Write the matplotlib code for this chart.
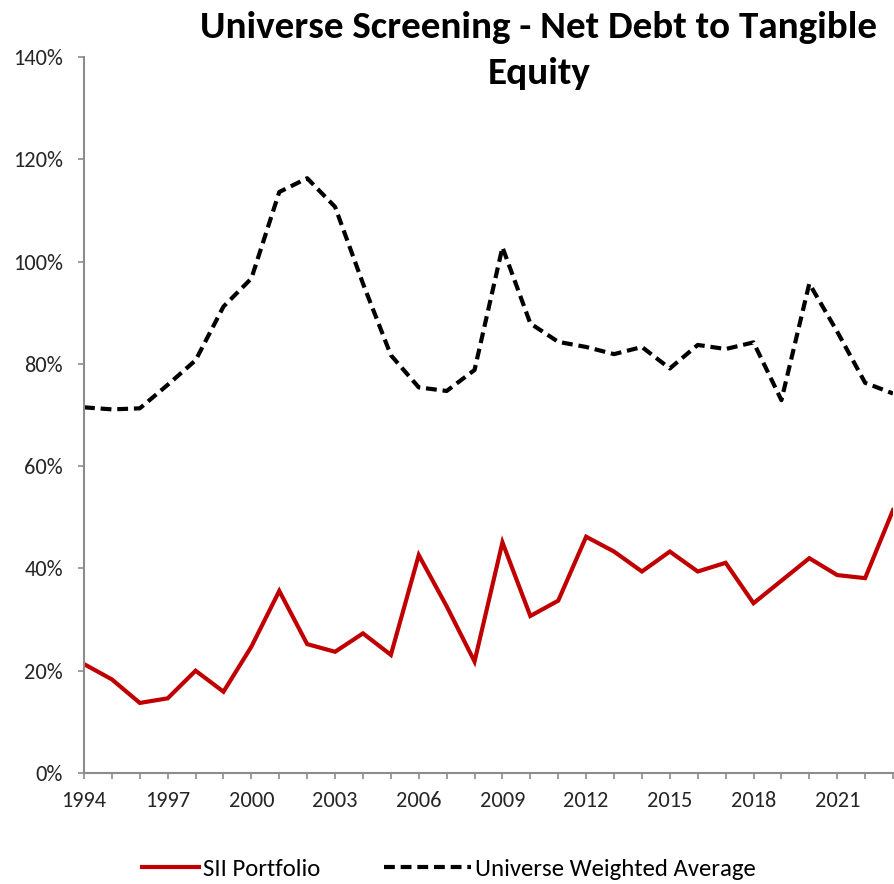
import matplotlib
matplotlib.use("Agg")
import matplotlib.pyplot as plt
from matplotlib import font_manager
from matplotlib.ticker import FixedLocator, FuncFormatter, MultipleLocator
from matplotlib.lines import Line2D

available = {f.name for f in font_manager.fontManager.ttflist}
candidates = ['Carlito', 'Liberation Sans Narrow', 'DejaVu Sans Condensed',
              'Roboto Condensed', 'Open Sans Condensed', 'Lato', 'Open Sans',
              'DejaVu Sans']
main_font = next(c for c in candidates if c in available)
plt.rcParams['font.family'] = [main_font, 'DejaVu Sans']

years = list(range(1994, 2024))
sii_portfolio = [21.3, 18.3, 13.7, 14.6, 20.0, 15.9, 24.7, 35.6, 25.2, 23.7,
                 27.3, 23.1, 42.6, 32.6, 21.8, 45.1, 30.7, 33.7, 46.2, 43.3,
                 39.4, 43.3, 39.4, 41.1, 33.2, 37.6, 42.0, 38.7, 38.1, 51.4]
universe_avg = [71.5, 71.1, 71.3, 75.9, 80.7, 91.2, 96.7, 113.6, 116.3, 110.7,
                95.7, 81.7, 75.4, 74.7, 78.8, 102.8, 87.9, 84.3, 83.3, 81.9,
                83.3, 79.1, 83.7, 82.9, 84.2, 72.9, 95.7, 86.3, 76.3, 74.2]
labeled_years = list(range(1994, 2024, 3))
y_ticks = [0, 20, 40, 60, 80, 100, 120, 140]

title_line1 = "Universe Screening - Net Debt to Tangible"
title_line2 = "Equity"
series_names = ['SII Portfolio', 'Universe Weighted Average']

W, H = 895, 884
fig = plt.figure(figsize=(W / 100, H / 100), dpi=100)
fig.patch.set_facecolor('white')
renderer = fig.canvas.get_renderer()


def fit_size(s, target_px, weight='normal'):
    t = fig.text(0, 0, s, fontsize=20, fontweight=weight)
    w = t.get_window_extent(renderer).width
    t.remove()
    return 20 * target_px / w


title_fs = fit_size(title_line1, 678, 'bold')
tick_fs = fit_size("140%", 50)
legend_fs = fit_size(series_names[1], 280)

ax = fig.add_axes([84 / W, 1 - 773 / H, (893 - 84) / W, (773 - 57) / H])

ax.plot(years, sii_portfolio, color='#C00000', lw=3.0, solid_joinstyle='miter')
ax.plot(years, universe_avg, color='black', lw=3.0, dashes=(2.6, 1.4))

ax.set_xlim(1994, 2023)
ax.set_ylim(0, 140)
ax.set_yticks(y_ticks)
ax.yaxis.set_major_formatter(FuncFormatter(lambda v, p: f"{v:.0f}%"))
ax.xaxis.set_major_locator(FixedLocator(labeled_years))
ax.xaxis.set_minor_locator(MultipleLocator(1))

spine_c = '#8C8C8C'
for s in ['top', 'right']:
    ax.spines[s].set_visible(False)
for s in ['left', 'bottom']:
    ax.spines[s].set_color(spine_c)
    ax.spines[s].set_linewidth(1.5)
ax.tick_params(axis='both', which='both', direction='out', color=spine_c,
               width=1.2, labelsize=tick_fs, labelcolor='#262626')
ax.tick_params(axis='x', which='both', length=4, pad=9)
ax.tick_params(axis='y', length=4, pad=11)

fig.text(539 / W, 1 - 27 / H, title_line1, ha='center', va='center',
         fontsize=title_fs, fontweight='bold', color='black')
fig.text(539 / W, 1 - 73 / H, title_line2, ha='center', va='center',
         fontsize=title_fs, fontweight='bold', color='black')

h1 = Line2D([], [], color='#C00000', lw=3.0)
h2 = Line2D([], [], color='black', lw=3.0, dashes=(2.6, 1.4))
leg1 = fig.legend([h1], [series_names[0]], loc='center left',
                  bbox_to_anchor=(142 / W, 1 - 869 / H), frameon=False,
                  fontsize=legend_fs, handlelength=57 / (legend_fs * 100 / 72),
                  handletextpad=0.15, borderpad=0, borderaxespad=0)
leg2 = fig.legend([h2], [series_names[1]], loc='center left',
                  bbox_to_anchor=(384 / W, 1 - 869 / H), frameon=False,
                  fontsize=legend_fs, handlelength=87 / (legend_fs * 100 / 72),
                  handletextpad=0.15, borderpad=0, borderaxespad=0)

fig.savefig('out.png', dpi=100, facecolor='white')
